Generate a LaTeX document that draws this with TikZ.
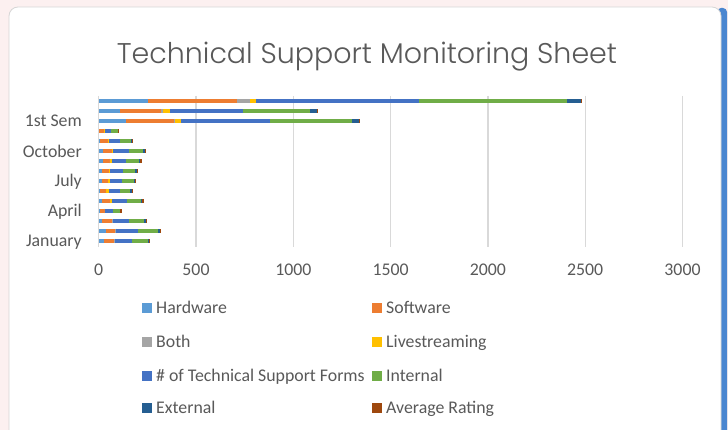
\documentclass[tikz,border=0pt]{standalone}
\usepackage{fontspec}
\setmainfont{Carlito}
\newfontfamily\titlefont{Poppins Light}
\usepackage{tikz}

\definecolor{bgpink}{RGB}{252,240,240}
\definecolor{cardline}{RGB}{214,214,214}
\definecolor{edgeblue}{RGB}{74,134,208}
\definecolor{gridgrey}{RGB}{217,217,217}
\definecolor{txtgrey}{RGB}{89,89,89}
\definecolor{ser1}{HTML}{5B9BD5}
\definecolor{ser2}{HTML}{ED7D31}
\definecolor{ser3}{HTML}{A5A5A5}
\definecolor{ser4}{HTML}{FFC000}
\definecolor{ser5}{HTML}{4472C4}
\definecolor{ser6}{HTML}{70AD47}
\definecolor{ser7}{HTML}{255E91}
\definecolor{ser8}{HTML}{9E480E}

\begin{document}
\begin{tikzpicture}[x=1pt, y=-1pt,
		lbl/.style={text=txtgrey, font=\fontsize{17.8}{20}\selectfont, inner sep=0pt},
		keybox/.style={fill=#1, minimum size=10pt, inner sep=0pt}]
		\useasboundingbox (0,0) rectangle (728,430);
		\fill[bgpink] (0,0) rectangle (728,430);
		% card and its blue edge
		\fill[edgeblue, rounded corners=4pt] (717,8) rectangle (727,440);
		\filldraw[fill=white, draw=cardline, line width=0.8pt, rounded corners=9pt] (9,7) rectangle (721,445);
		\node[text=txtgrey, font=\titlefont\fontsize{28.5}{32}\selectfont, anchor=base] (title) at (367,64) {Technical Support Monitoring Sheet};
		% grid and value axis
		\foreach \k/\v in {0/0,1/500,2/1000,3/1500,4/2000,5/2500,6/3000} {
			\draw[gridgrey, line width=1.3pt] ({98.7+97.3*\k},96) -- ({98.7+97.3*\k},247);
			\node[lbl] (tick\v) at ({98.7+97.3*\k},270) {\v};
		}
		% stacked bars, bottom row first
		\foreach \y/\vals in {241/{29,50,7,0,84,82,8,5}, 231/{39,46,5,0,113,104,7,5},
				221/{19,50,3,3,80,80,7,5}, 211/{9,21,0,3,38,39,1,7}, 201/{19,41,0,9,77,70,9,7},
				191/{9,31,0,12,60,50,9,5}, 181/{15,34,0,9,63,58,8,7}, 171/{19,36,0,5,67,60,8,5},
				161/{24,33,0,10,74,65,8,7}, 151/{24,46,0,6,80,74,8,5}, 141/{8,41,0,5,58,55,4,5},
				131/{2,26,0,2,31,36,2,4}, 121/{142,245,5,31,457,423,33,5},
				111/{110,212,9,34,379,343,36,5}, 101/{255,456,67,31,838,761,72,5}} {
			\xdef\acc{0}
			\foreach \v [count=\i] in \vals {
				\pgfmathsetmacro\nxt{\acc+\v}
				\fill[ser\i] ({98.7+0.1946*\acc},\y-2.3) rectangle ({98.7+0.1946*\nxt},\y+2.3);
				\xdef\acc{\nxt}
			}
		}
		% category labels
		\node[lbl, anchor=east] (jan) at (82,242) {January};
		\node[lbl, anchor=east] (apr) at (82,212) {April};
		\node[lbl, anchor=east] (jul) at (82,181.5) {July};
		\node[lbl, anchor=east] (oct) at (82,151) {October};
		\node[lbl, anchor=east] (sem) at (82,121) {1st Sem};
		% legend
		\node[keybox=ser1] (kHw) at (147,308) {};
		\node[lbl, anchor=base west] at (156,313.6) {Hardware};
		\node[keybox=ser2] (kSw) at (377,308) {};
		\node[lbl, anchor=base west] at (386,313.6) {Software};
		\node[keybox=ser3] (kBoth) at (147,342) {};
		\node[lbl, anchor=base west] at (156,347.6) {Both};
		\node[keybox=ser4] (kLive) at (377,342) {};
		\node[lbl, anchor=base west] at (386,347.6) {Livestreaming};
		\node[keybox=ser5] (kForms) at (147,376) {};
		\node[lbl, anchor=base west] at (156,381.6) {\# of Technical Support Forms};
		\node[keybox=ser6] (kInt) at (377,376) {};
		\node[lbl, anchor=base west] at (386,381.6) {Internal};
		\node[keybox=ser7] (kExt) at (147,408) {};
		\node[lbl, anchor=base west] at (156,413.6) {External};
		\node[keybox=ser8] (kAvg) at (377,408) {};
		\node[lbl, anchor=base west] at (386,413.6) {Average Rating};
	\end{tikzpicture}
\end{document}
